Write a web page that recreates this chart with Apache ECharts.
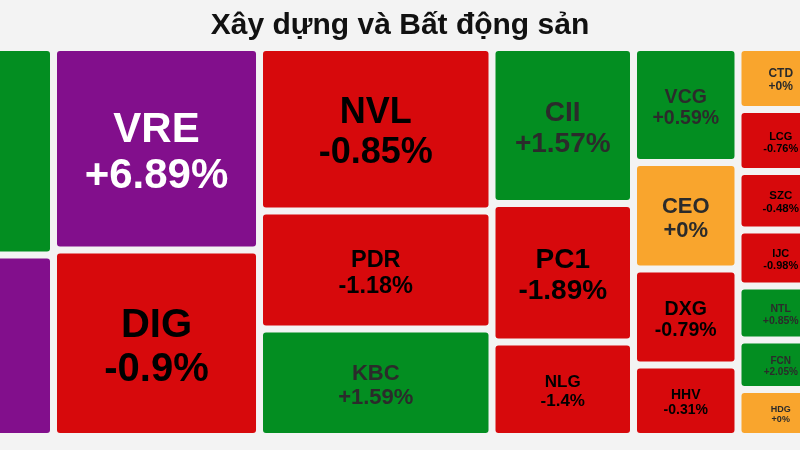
<!DOCTYPE html>
<html>
<head>
<meta charset="utf-8">
<script src="https://cdn.jsdelivr.net/npm/echarts@6/dist/echarts.min.js"></script>
<style>
html,body{margin:0;padding:0;background:#f3f3f3;}
#chart{width:800px;height:450px;}
</style>
</head>
<body>
<div id="chart"></div>
<script>
// ---- data ----
const chartTitle = 'Xây dựng và Bất động sản';
// tickers in layout order; the first two and the last one are cut off by the frame
const tickers = ['VHM','VIC','VRE','DIG','NVL','PDR','KBC','CII','PC1','NLG','VCG','CEO','DXG','HHV','CTD','LCG','SZC','IJC','NTL','FCN','HDG','Khác'];
// tile weights (size of each box)
const weights = [498.0,435.6,417.2,384.2,380.1,274.4,249.9,220.7,196.0,133.7,120.2,111.3,100.3,74.7,53.0,53.0,50.0,47.9,46.2,42.3,40.2,1231.2];
// price change, %
const changes = [1.2,6.9,6.89,-0.9,-0.85,-1.18,1.59,1.57,-1.89,-1.4,0.59,0,-0.79,-0.31,0,-0.76,-0.48,-0.98,0.85,2.05,0,0];

// ---- styles ----
const labelSize = {VHM:40,VIC:40,VRE:42,DIG:40,NVL:36,PDR:23.5,KBC:22,CII:28,PC1:28,NLG:17,VCG:19.5,CEO:22,DXG:19.5,HHV:14,CTD:12,LCG:11,SZC:11.5,IJC:11,NTL:10.5,FCN:10,HDG:9,'Khác':12};
const FONT = '"Liberation Sans", Arial, Helvetica, sans-serif';
function tileColor(c){
  if (c >= 6.5) return '#820f8c';
  if (c > 0) return '#038e21';
  if (c === 0) return '#f9a52d';
  return '#d7090c';
}
function textColor(c){
  if (c >= 6.5) return '#ffffff';
  if (c < 0) return '#000000';
  return '#2b2b2b';
}
function fmtChange(c){ return (c >= 0 ? '+' : '') + c + '%'; }

const seriesData = tickers.map(function(t, i){
  const fs = labelSize[t] || 12;
  return {
    name: t,
    value: weights[i],
    change: changes[i],
    itemStyle: { color: tileColor(changes[i]) },
    label: {
      fontSize: fs,
      lineHeight: Math.round(fs * 1.1),
      color: textColor(changes[i]),
      offset: [0, Math.round((1 + 0.09 * fs) * 10) / 10]
    }
  };
});

const chart = echarts.init(document.getElementById('chart'), null, {renderer:'canvas'});
chart.setOption({
  backgroundColor: '#f3f3f3',
  animation: false,
  title: {
    text: chartTitle,
    left: 'center',
    top: 6,
    textStyle: { fontSize: 30, fontWeight: 'bold', color: '#111111', fontFamily: FONT }
  },
  series: [{
    type: 'treemap',
    left: -183,
    top: 51,
    width: 1319.5,
    height: 382,
    squareRatio: 1.445,
    sort: false,
    roam: false,
    nodeClick: false,
    silent: true,
    breadcrumb: { show: false },
    itemStyle: { gapWidth: 7, borderWidth: 0, borderColor: 'rgba(0,0,0,0)' },
    levels: [
      { itemStyle: { gapWidth: 7, borderWidth: 0 } },
      { itemStyle: { borderRadius: 3, borderWidth: 0 } }
    ],
    label: {
      show: true,
      position: 'inside',
      align: 'center',
      verticalAlign: 'middle',
      fontWeight: 'bold',
      fontFamily: FONT,
      padding: 0,
      formatter: function(p){ return p.name + '\n' + fmtChange(p.data.change); }
    },
    emphasis: { disabled: true },
    data: seriesData
  }]
});
</script>
</body>
</html>
